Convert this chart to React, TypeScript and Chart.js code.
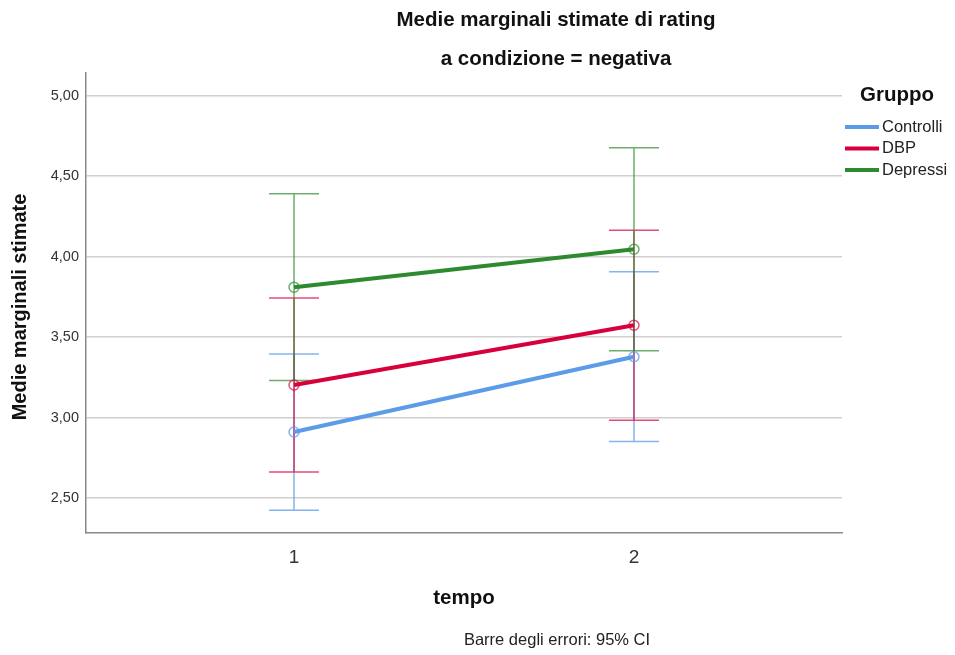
import React, { useEffect, useRef } from "react";
import { Chart, registerables } from "chart.js";

Chart.register(...registerables);

const TEMPO = [1, 2];
const TICK_VALUES = [2.5, 3.0, 3.5, 4.0, 4.5, 5.0];
const GROUPS = ["Controlli", "DBP", "Depressi"];
const CONTROLLI_MEAN = [2.91, 3.378];
const CONTROLLI_LOW = [2.425, 2.851];
const CONTROLLI_HIGH = [3.395, 3.905];
const DBP_MEAN = [3.202, 3.573];
const DBP_LOW = [2.662, 2.983];
const DBP_HIGH = [3.742, 4.163];
const DEPRESSI_MEAN = [3.81, 4.045];
const DEPRESSI_LOW = [3.23, 3.415];
const DEPRESSI_HIGH = [4.39, 4.675];

const COLORS = ["#5b9be9", "#d8003a", "#2e8a2e"];
const COLORS_A = ["rgba(91,155,233,0.75)", "rgba(216,0,58,0.7)", "rgba(46,138,46,0.7)"];
const FONT = '"Liberation Sans", Arial, sans-serif';

const MEANS = [CONTROLLI_MEAN, DBP_MEAN, DEPRESSI_MEAN];
const LOWS = [CONTROLLI_LOW, DBP_LOW, DEPRESSI_LOW];
const HIGHS = [CONTROLLI_HIGH, DBP_HIGH, DEPRESSI_HIGH];

const errorBarsPlugin = {
  id: "errorBars",
  beforeDatasetsDraw(chart: any) {
    const { ctx, scales } = chart;
    const xs = scales.x;
    const ys = scales.y;
    ctx.save();
    GROUPS.forEach((_, gi) => {
      ctx.strokeStyle = COLORS_A[gi];
      ctx.lineWidth = 1.5;
      TEMPO.forEach((t, i) => {
        const x = xs.getPixelForValue(t);
        const yl = ys.getPixelForValue(LOWS[gi][i]);
        const yh = ys.getPixelForValue(HIGHS[gi][i]);
        ctx.beginPath();
        ctx.moveTo(x, yl);
        ctx.lineTo(x, yh);
        ctx.moveTo(x - 25, yl);
        ctx.lineTo(x + 25, yl);
        ctx.moveTo(x - 25, yh);
        ctx.lineTo(x + 25, yh);
        ctx.stroke();
      });
    });
    ctx.restore();
  },
};

const textPlugin = {
  id: "texts",
  afterDraw(chart: any) {
    const { ctx } = chart;
    ctx.save();
    ctx.fillStyle = "#111";
    ctx.textBaseline = "middle";
    ctx.textAlign = "center";
    ctx.font = `bold 20.5px ${FONT}`;
    ctx.fillText("Medie marginali stimate di rating", 556, 20);
    ctx.fillText("a condizione = negativa", 556, 59);
    ctx.fillText("tempo", 464, 598);
    ctx.save();
    ctx.translate(20, 307);
    ctx.rotate(-Math.PI / 2);
    ctx.font = `bold 20px ${FONT}`;
    ctx.fillText("Medie marginali stimate", 0, 0);
    ctx.restore();
    ctx.font = `16.5px ${FONT}`;
    ctx.fillStyle = "#222";
    ctx.fillText("Barre degli errori: 95% CI", 557, 640);
    // legend
    ctx.textAlign = "left";
    ctx.fillStyle = "#111";
    ctx.font = `bold 20.5px ${FONT}`;
    ctx.fillText("Gruppo", 860, 95);
    ctx.font = `16.5px ${FONT}`;
    GROUPS.forEach((g, i) => {
      const y = 127 + i * 21.5;
      ctx.strokeStyle = COLORS[i];
      ctx.lineWidth = 4;
      ctx.beginPath();
      ctx.moveTo(845, y);
      ctx.lineTo(879, y);
      ctx.stroke();
      ctx.fillStyle = "#222";
      ctx.fillText(g, 882, y);
    });
    ctx.restore();
  },
};

export default function App() {
  const ref = useRef<HTMLCanvasElement>(null);
  useEffect(() => {
    if (!ref.current) return;
    const chart = new Chart(ref.current, {
      type: "scatter",
      data: {
        datasets: GROUPS.map((g, gi) => ({
          label: g,
          data: TEMPO.map((t, i) => ({ x: t, y: MEANS[gi][i] })),
          showLine: true,
          borderColor: COLORS[gi],
          borderWidth: 4,
          pointRadius: 5,
          pointHoverRadius: 5,
          pointBackgroundColor: "rgba(0,0,0,0)",
          pointBorderColor: COLORS_A[gi],
          pointBorderWidth: 1.5,
          clip: false as any,
        })),
      },
      options: {
        responsive: false,
        animation: false,
        devicePixelRatio: 1,
        layout: { padding: { left: 0, top: 73, right: 113, bottom: 92 } },
        plugins: { legend: { display: false }, title: { display: false }, tooltip: { enabled: false } },
        scales: {
          x: {
            type: "linear",
            min: 0.388,
            max: 2.612,
            afterBuildTicks: (s: any) => {
              s.ticks = TEMPO.map((v) => ({ value: v }));
            },
            afterFit: (s: any) => {
              s.height = 30;
            },
            grid: { display: false, drawTicks: false },
            border: { display: true, color: "#8a8a8a", width: 1.5 },
            ticks: {
              padding: 13,
              color: "#333",
              font: { family: FONT, size: 19 },
              callback: (v: any) => String(v),
            },
          },
          y: {
            type: "linear",
            min: 2.283,
            max: 5.14,
            afterBuildTicks: (s: any) => {
              s.ticks = TICK_VALUES.map((v) => ({ value: v }));
            },
            afterFit: (s: any) => {
              s.width = 86;
            },
            grid: { color: "#d0d0d0", lineWidth: 1.5, drawTicks: false },
            border: { display: true, color: "#8a8a8a", width: 1.5 },
            ticks: {
              padding: 7,
              color: "#333",
              font: { family: FONT, size: 14.5 },
              callback: (v: any) => Number(v).toFixed(2).replace(".", ","),
            },
          },
        },
      },
      plugins: [errorBarsPlugin, textPlugin],
    });
    return () => chart.destroy();
  }, []);
  return (
    <div style={{ position: "fixed", left: 0, top: 0, width: 955, height: 655, background: "#fff" }}>
      <canvas ref={ref} width={955} height={655} style={{ display: "block", width: 955, height: 655 }} />
    </div>
  );
}
